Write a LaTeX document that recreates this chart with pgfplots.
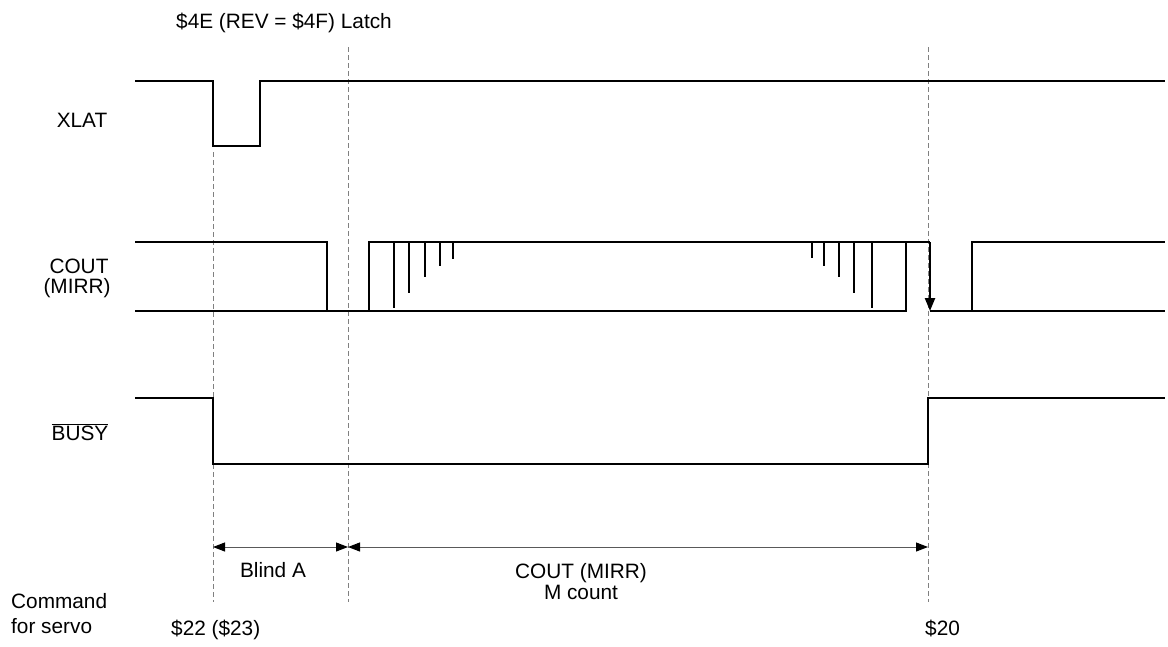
\documentclass[border=0pt]{standalone}
\usepackage{pgfplots}
\pgfplotsset{compat=1.18}
\usepackage{fontspec}
\setmainfont{Liberation Sans}
\usetikzlibrary{arrows.meta}
\tikzset{
  sig/.style={black, line width=2.3pt, line join=miter},
  grid line/.style={black!50, line width=1pt, dash pattern=on 5pt off 3pt},
  dim/.style={black!65, line width=1pt},
  lbl/.style={font=\fontsize{20.8}{24}\selectfont, inner sep=0pt},
}
\begin{document}
\begin{tikzpicture}
\begin{axis}[
  scale only axis, width=1168pt, height=646pt,
  xmin=0, xmax=1168, ymin=0, ymax=646, y dir=reverse,
  hide axis, clip=false,
  every axis plot/.append style={no marks},
]
% bounding frame (invisible)
\addplot[draw=none] coordinates {(0,0) (1168,646)};

% dashed reference lines
\addplot[grid line] coordinates {(213,152) (213,602)};
\addplot[grid line] coordinates {(348,47) (348,602)};
\addplot[grid line] coordinates {(928,47) (928,602)};

% XLAT
\addplot[sig] coordinates {(135,81) (213,81) (213,146) (260,146) (260,81) (1165,81)};

% COUT (MIRR)
\addplot[sig] coordinates {(135,242) (327,242) (327,311)};
\addplot[sig] coordinates {(135,311) (369,311) (369,242) (930,242)};
\addplot[sig] coordinates {(369,311) (907,311)};
\addplot[sig] coordinates {(394,242) (394,308)};
\addplot[sig] coordinates {(409,242) (409,293)};
\addplot[sig] coordinates {(425,242) (425,277)};
\addplot[sig] coordinates {(440,242) (440,266)};
\addplot[sig] coordinates {(453,242) (453,259)};
\addplot[sig] coordinates {(812,242) (812,258)};
\addplot[sig] coordinates {(824,242) (824,266)};
\addplot[sig] coordinates {(839,242) (839,277)};
\addplot[sig] coordinates {(854,242) (854,293)};
\addplot[sig] coordinates {(872,242) (872,308)};
\addplot[sig] coordinates {(906,242) (906,311)};
\addplot[sig, -{Triangle[length=13pt,width=10pt]}] coordinates {(930,242) (930,311)};
\addplot[sig] coordinates {(930,311) (972,311) (972,242) (1165,242)};
\addplot[sig] coordinates {(972,311) (1165,311)};

% BUSY
\addplot[sig] coordinates {(135,398) (213,398) (213,464) (928,464) (928,398) (1165,398)};

% dimension arrows
\addplot[dim, {Triangle[length=12pt,width=9pt,color=black]}-{Triangle[length=12pt,width=9pt,color=black]}] coordinates {(213,547) (348,547)};
\addplot[dim, {Triangle[length=12pt,width=9pt,color=black]}-{Triangle[length=12pt,width=9pt,color=black]}] coordinates {(348,547) (928,547)};

% labels
\node[lbl, anchor=base west] at (axis cs:176,28) {\$4E (REV = \$4F) Latch};
\node[lbl, anchor=base] at (axis cs:82,127) {XLAT};
\node[lbl, anchor=base] at (axis cs:79,273) {COUT};
\node[lbl, anchor=base] at (axis cs:77,293) {(MIRR)};
\node[lbl, anchor=base] at (axis cs:80,440) {$\overline{\mbox{BUSY}}$};
\node[lbl, anchor=base] at (axis cs:273,577) {Blind A};
\node[lbl, anchor=base] at (axis cs:581,578) {COUT (MIRR)};
\node[lbl, anchor=base] at (axis cs:581,599) {M count};
\node[lbl, anchor=base west] at (axis cs:11,608) {Command};
\node[lbl, anchor=base west] at (axis cs:11,633) {for servo};
\node[lbl, anchor=base west] at (axis cs:171,635) {\$22 (\$23)};
\node[lbl, anchor=base west] at (axis cs:925,635) {\$20};
\end{axis}
\end{tikzpicture}
\end{document}
